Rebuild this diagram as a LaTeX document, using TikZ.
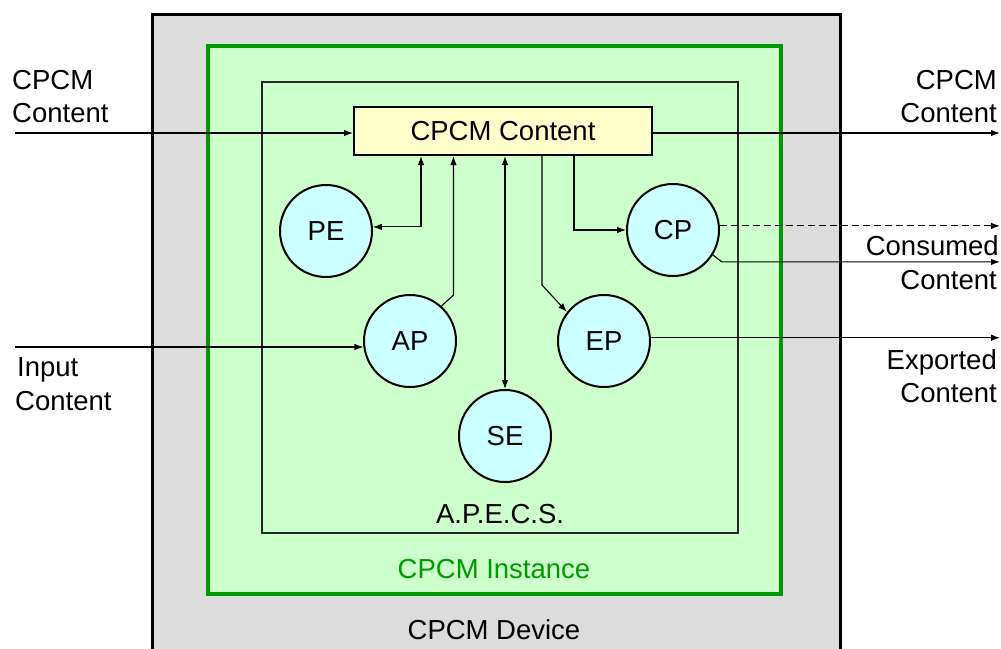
\documentclass[tikz,border=0pt]{standalone}
\usepackage{fontspec}
\setmainfont{Liberation Sans}
\usetikzlibrary{arrows.meta,calc}
\definecolor{devgray}{HTML}{DCDCDC}
\definecolor{instfill}{HTML}{CCFFCC}
\definecolor{instline}{HTML}{009900}
\definecolor{boxfill}{HTML}{FFFFCC}
\definecolor{circfill}{HTML}{CCFFFF}
\begin{document}
\begin{tikzpicture}[x=1pt,y=-1pt,
  txt/.style={font=\fontsize{27.5}{30}\selectfont, inner sep=0pt},
  ent/.style={circle, draw=black, line width=2pt, fill=circfill, minimum size=92pt, inner sep=0pt, font=\fontsize{27.5}{30}\selectfont},
  cbox/.style={draw=black, line width=2pt, fill=boxfill, minimum width=298pt, minimum height=48pt, inner sep=0pt, font=\fontsize{27.5}{30}\selectfont},
  conn/.style={line width=1.1pt, -{Latex[length=9pt,width=6.5pt]}},
  dconn/.style={line width=1.1pt, {Latex[length=9pt,width=6.5pt]}-{Latex[length=9pt,width=6.5pt]}},
  plain/.style={line width=1.1pt}
]
\useasboundingbox (0,0) rectangle (1001,648);
\fill[white] (0,0) rectangle (1001,648);
% device
\draw[fill=devgray, draw=black, line width=3pt] (152,14) rectangle (840,680);
% instance
\draw[fill=instfill, draw=instline, line width=4.5pt] (208,46) rectangle (781,594);
% apecs
\draw[draw=black!85, line width=1.1pt] (262,82) rectangle (738,533);

\node[cbox] (cc) at (503,131) {CPCM Content};
\node[ent] (pe) at (326,231) {PE};
\node[ent] (cp) at (673,230) {CP};
\node[ent] (ap) at (410,341) {AP};
\node[ent] (ep) at (604,341) {EP};
\node[ent] (se) at (505,436) {SE};

% coordinates
\coordinate (inC) at (15,133);
\coordinate (outC) at (1000,133);
\coordinate (inA) at (15,347);
\coordinate (xpe) at (421,0);
\coordinate (xep) at (542,285);
\coordinate (xcp) at (574,0);
\coordinate (rEdge) at (1000,0);

% inputs
\draw[conn] (inC) -- (inC -| cc.west);
\draw[conn] (outC -| cc.east) -- (outC);
\draw[conn] (inA) -- (inA -| ap.188);

% internal
\draw[dconn] (xpe |- cc.south) |- (pe.5);
\draw[conn] (ap.48) -- ++(12,-11) coordinate (apk) -- (apk |- cc.south);
\draw[dconn] (cc.south -| se.north) -- (se.north);
\draw[conn] (xep |- cc.south) -- (xep) -- (ep.142);
\draw[conn] (xcp |- cc.south) |- (cp.west);

% outputs
\draw[conn, dash pattern=on 7pt off 4pt] (cp.5) -- (cp.5 -| rEdge);
\draw[conn] (cp.-32) -- ++(9,7) coordinate (cpk) -- (cpk -| rEdge);
\draw[conn] (ep.4) -- (ep.4 -| rEdge);

% labels
\node[txt, anchor=base west] (l1) at (12,89) {CPCM};
\node[txt, anchor=base west] (l2) at (12,122) {Content};
\node[txt, anchor=base west] (l3) at (17,376) {Input};
\node[txt, anchor=base west] (l4) at (15,410) {Content};
\node[txt, anchor=base east] (r1) at (997,89) {CPCM};
\node[txt, anchor=base east] (r2) at (997,122) {Content};
\node[txt, anchor=base east] (r3) at (999,255) {Consumed};
\node[txt, anchor=base east] (r4) at (997,289) {Content};
\node[txt, anchor=base east] (r5) at (997,369) {Exported};
\node[txt, anchor=base east] (r6) at (997,402) {Content};
\node[txt, anchor=base] (apecs) at (500,523) {A.P.E.C.S.};
\node[txt, anchor=base, text=instline] (inst) at (494,578) {CPCM Instance};
\node[txt, anchor=base] (dev) at (494,639) {CPCM Device};
\end{tikzpicture}
\end{document}
